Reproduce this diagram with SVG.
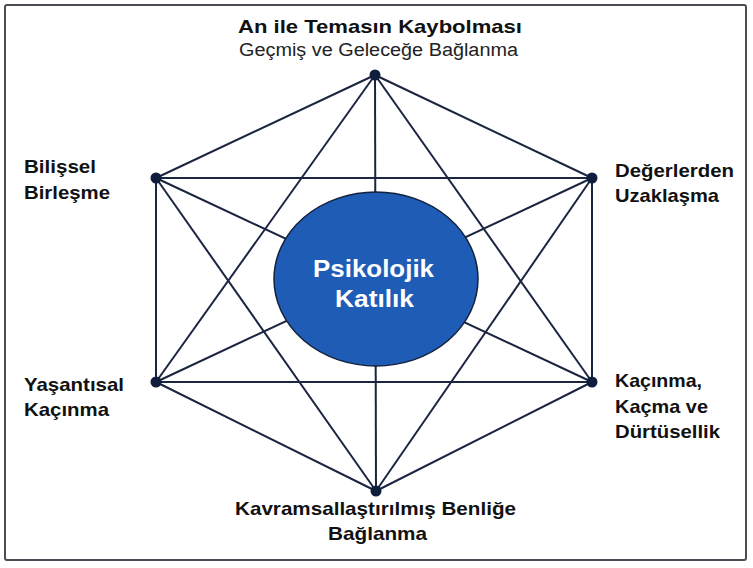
<svg xmlns="http://www.w3.org/2000/svg" width="753" height="568" viewBox="0 0 753 568">
<style>
.lbl{font-family:"Liberation Sans",Arial,sans-serif;font-weight:bold;font-size:18.5px;fill:#111}
.sub{font-family:"Liberation Sans",Arial,sans-serif;font-size:18px;fill:#222}
.ctr{font-family:"Liberation Sans",Arial,sans-serif;font-weight:bold;font-size:23px;fill:#fff}
.edge{stroke:#1b2541;stroke-width:2;fill:none}
.dot{fill:#0f1e3d}
</style>
<rect x="0" y="0" width="753" height="568" fill="#fff"/>
<rect x="5" y="5" width="741" height="555" rx="2" fill="#fff" stroke="#4a4d55" stroke-width="2"/>
<g id="connectors">
<line class="edge" x1="375" y1="75" x2="156" y2="178"/>
<line class="edge" x1="375" y1="75" x2="592" y2="178"/>
<line class="edge" x1="375" y1="75" x2="156" y2="382"/>
<line class="edge" x1="375" y1="75" x2="592" y2="382"/>
<line class="edge" x1="375" y1="75" x2="376" y2="491"/>
<line class="edge" x1="156" y1="178" x2="592" y2="178"/>
<line class="edge" x1="156" y1="178" x2="156" y2="382"/>
<line class="edge" x1="156" y1="178" x2="592" y2="382"/>
<line class="edge" x1="156" y1="178" x2="376" y2="491"/>
<line class="edge" x1="592" y1="178" x2="156" y2="382"/>
<line class="edge" x1="592" y1="178" x2="592" y2="382"/>
<line class="edge" x1="592" y1="178" x2="376" y2="491"/>
<line class="edge" x1="156" y1="382" x2="592" y2="382"/>
<line class="edge" x1="156" y1="382" x2="376" y2="491"/>
<line class="edge" x1="592" y1="382" x2="376" y2="491"/>
</g>
<g id="center">
<ellipse cx="376" cy="279" rx="102" ry="87" fill="#1f5cb6" stroke="#14213d" stroke-width="1.5"/>
<text class="ctr" x="373.5" y="277" text-anchor="middle" textLength="121" lengthAdjust="spacingAndGlyphs">Psikolojik</text>
<text class="ctr" x="374.5" y="307" text-anchor="middle" textLength="79" lengthAdjust="spacingAndGlyphs">Katılık</text>
</g>
<g id="node-top">
<circle class="dot" cx="375" cy="75" r="5.5"/>
<text class="lbl" x="380" y="33" text-anchor="middle" textLength="284" lengthAdjust="spacingAndGlyphs">An ile Temasın Kaybolması</text>
<text class="sub" x="378.5" y="56" text-anchor="middle" textLength="279" lengthAdjust="spacingAndGlyphs">Geçmiş ve Geleceğe Bağlanma</text>
</g>
<g id="node-upper-left">
<circle class="dot" cx="156" cy="178" r="5.5"/>
<text class="lbl" x="24" y="173" textLength="72" lengthAdjust="spacingAndGlyphs">Bilişsel</text>
<text class="lbl" x="24" y="199" textLength="86" lengthAdjust="spacingAndGlyphs">Birleşme</text>
</g>
<g id="node-upper-right">
<circle class="dot" cx="592" cy="178" r="5.5"/>
<text class="lbl" x="615" y="177" textLength="119" lengthAdjust="spacingAndGlyphs">Değerlerden</text>
<text class="lbl" x="615" y="202" textLength="104" lengthAdjust="spacingAndGlyphs">Uzaklaşma</text>
</g>
<g id="node-lower-left">
<circle class="dot" cx="156" cy="382" r="5.5"/>
<text class="lbl" x="24" y="391" textLength="100" lengthAdjust="spacingAndGlyphs">Yaşantısal</text>
<text class="lbl" x="24" y="416" textLength="85" lengthAdjust="spacingAndGlyphs">Kaçınma</text>
</g>
<g id="node-lower-right">
<circle class="dot" cx="592" cy="382" r="5.5"/>
<text class="lbl" x="615" y="387" textLength="87" lengthAdjust="spacingAndGlyphs">Kaçınma,</text>
<text class="lbl" x="615" y="413" textLength="93" lengthAdjust="spacingAndGlyphs">Kaçma ve</text>
<text class="lbl" x="615" y="438" textLength="105" lengthAdjust="spacingAndGlyphs">Dürtüsellik</text>
</g>
<g id="node-bottom">
<circle class="dot" cx="376" cy="491" r="5.5"/>
<text class="lbl" x="375.5" y="515" text-anchor="middle" textLength="281" lengthAdjust="spacingAndGlyphs">Kavramsallaştırılmış Benliğe</text>
<text class="lbl" x="377.5" y="540" text-anchor="middle" textLength="99" lengthAdjust="spacingAndGlyphs">Bağlanma</text>
</g>
</svg>
